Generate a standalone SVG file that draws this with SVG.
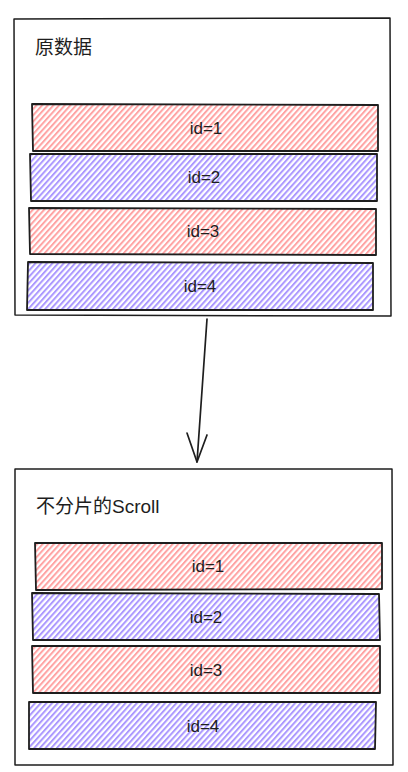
<svg xmlns="http://www.w3.org/2000/svg" width="408" height="772" viewBox="0 0 408 772">
<defs>
<pattern id="hR" width="4.2" height="4.2" patternUnits="userSpaceOnUse" patternTransform="rotate(42)">
<line x1="1" y1="0" x2="1" y2="4.2" stroke="#ffa3a3" stroke-width="2"/>
</pattern>
<pattern id="hB" width="4.2" height="4.2" patternUnits="userSpaceOnUse" patternTransform="rotate(42)">
<line x1="1" y1="0" x2="1" y2="4.2" stroke="#ab98ff" stroke-width="2"/>
</pattern>
<style>
.frame{fill:#ffffff;stroke:#1e1e1e;stroke-width:1.5;stroke-linejoin:round}
.red{fill:url(#hR);stroke:#1e1e1e;stroke-width:1.8;stroke-linejoin:round}
.blue{fill:url(#hB);stroke:#1e1e1e;stroke-width:1.8;stroke-linejoin:round}
.title{font-family:"Liberation Sans","Noto Sans CJK SC",sans-serif;font-size:19px;fill:#1e1e1e}
.lbl{font-family:"Liberation Sans","Noto Sans CJK SC",sans-serif;font-size:17px;fill:#1e1e1e;text-anchor:middle;dominant-baseline:central}
.conn{fill:none;stroke:#1e1e1e;stroke-width:1.7;stroke-linecap:round;stroke-linejoin:round}
</style>
</defs>
<rect width="408" height="772" fill="#ffffff"/>

<g id="source">
<path class="frame" d="M14,19 L390,18 L391,316 L15,315 Z"/>
<text class="title" x="35" y="54">原数据</text>
</g>
<g id="src-id1">
<path class="red" d="M32,104 L378,105 L378,151 L33,151 Z"/>
<text class="lbl" x="206" y="128">id=1</text>
</g>
<g id="src-id2">
<path class="blue" d="M30,154 L377,154 L377,201 L31,201 Z"/>
<text class="lbl" x="204" y="177">id=2</text>
</g>
<g id="src-id3">
<path class="red" d="M29,208 L376,209 L376,255 L30,254 Z"/>
<text class="lbl" x="203" y="231">id=3</text>
</g>
<g id="src-id4">
<path class="blue" d="M28,262 L373,263 L373,310 L27,310 Z"/>
<text class="lbl" x="200" y="286">id=4</text>
</g>

<g id="scroll">
<path class="frame" d="M15,469 L392,469 L393,765 L15,765 Z"/>
<text class="title" x="36" y="513">不分片的Scroll</text>
</g>
<g id="scr-id1">
<path class="red" d="M35,543 L382,543 L382,589 L36,590 Z"/>
<text class="lbl" x="208" y="566">id=1</text>
</g>
<g id="scr-id2">
<path class="blue" d="M32,593 L379,594 L380,640 L33,640 Z"/>
<text class="lbl" x="206" y="617">id=2</text>
</g>
<g id="scr-id3">
<path class="red" d="M32,646 L380,646 L380,693 L33,693 Z"/>
<text class="lbl" x="206" y="670">id=3</text>
</g>
<g id="scr-id4">
<path class="blue" d="M29,702 L376,702 L375,749 L29,749 Z"/>
<text class="lbl" x="203" y="726">id=4</text>
</g>

<g id="connectors">
<path class="conn" d="M207,319 L197,462"/>
<path class="conn" d="M187,433 L197,462 L207,435"/>
</g>
</svg>
